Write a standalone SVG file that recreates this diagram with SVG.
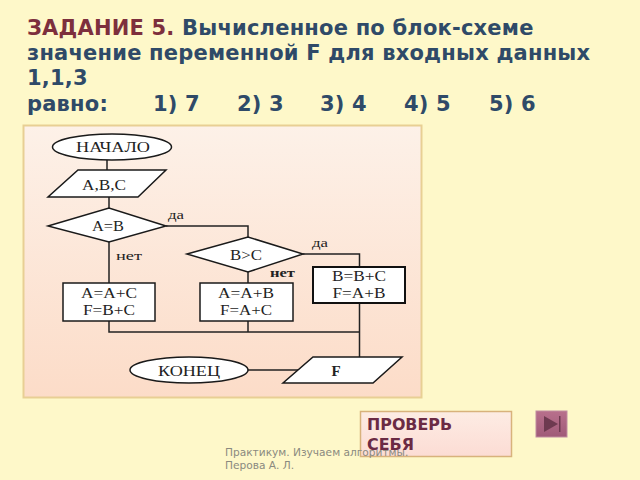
<svg xmlns="http://www.w3.org/2000/svg" width="640" height="480" viewBox="0 0 640 480">
<style>
.t{font-family:"DejaVu Sans",sans-serif;font-weight:bold;font-size:21px;letter-spacing:.2px;fill:#2f4a68}
.r{fill:#7d2f3d}
.s{fill:#fff;stroke:#1a1a1a;stroke-width:1.5}
.c{fill:none;stroke:#222;stroke-width:1.5}
.l{font-family:"Liberation Serif",serif;font-size:15px;fill:#222;text-anchor:middle}
.y{font-family:"Liberation Serif",serif;font-size:13px;fill:#222}
.f{font-family:"DejaVu Sans",sans-serif;font-size:10.600px;fill:#8a8a80}
.k{font-family:"DejaVu Sans",sans-serif;font-weight:bold;font-size:15px;fill:#6b2a44}
</style>
<defs>
<linearGradient id="p" x1="0" y1="0" x2="0" y2="1"><stop offset="0" stop-color="#fdf1e8"/><stop offset="1" stop-color="#fcdcc8"/></linearGradient>
<linearGradient id="b" x1="0" y1="0" x2="0" y2="1"><stop offset="0" stop-color="#fdece4"/><stop offset="1" stop-color="#fcdcd4"/></linearGradient>
<linearGradient id="n" x1="0" y1="0" x2="0" y2="1"><stop offset="0" stop-color="#b8708c"/><stop offset="1" stop-color="#a05a78"/></linearGradient>
</defs>
<rect width="640" height="480" fill="#fef8c9"/>
<g id="title">
<text class="t" x="27" y="35"><tspan class="r">ЗАДАНИЕ 5.</tspan> Вычисленное по блок-схеме</text>
<text class="t" x="27" y="60">значение переменной F для входных данных</text>
<text class="t" x="27" y="85">1,1,3</text>
<text class="t" x="27" y="111">равно:</text>
<text class="t" x="153" y="111">1) 7</text>
<text class="t" x="237" y="111">2) 3</text>
<text class="t" x="320" y="111">3) 4</text>
<text class="t" x="404" y="111">4) 5</text>
<text class="t" x="489" y="111">5) 6</text>
</g>
<rect id="panel" x="23.5" y="125.5" width="398" height="272" fill="url(#p)" stroke="#e8cf94" stroke-width="2"/>
<g id="connectors">
<path class="c" d="M107 160V170M109 197V208M166 226H248V237M303 254H359.500V267M109 242V283M248 272V283M109 321V332H359.500M248 321V332M359.500 303V357M248 370H298"/>
</g>
<g id="start"><ellipse class="s" cx="112" cy="147" rx="59.500" ry="13"/><text class="l" x="113" y="152" textLength="74" lengthAdjust="spacingAndGlyphs">НАЧАЛО</text></g>
<g id="input"><polygon class="s" points="78,170 166,170 138,197 48,197"/><text class="l" x="104" y="190" textLength="44" lengthAdjust="spacingAndGlyphs">A,B,C</text></g>
<g id="cond1"><polygon class="s" points="48,226 109,208 166,226 109,242"/><text class="l" x="108" y="231" textLength="32" lengthAdjust="spacingAndGlyphs">A=B</text></g>
<g id="cond2"><polygon class="s" points="187,254 248,237 303,254 248,272"/><text class="l" x="246" y="260" textLength="32" lengthAdjust="spacingAndGlyphs">B&gt;C</text></g>
<g id="box1"><rect class="s" x="63" y="283" width="92" height="38"/><text class="l" x="109" y="298" textLength="56" lengthAdjust="spacingAndGlyphs">A=A+C</text><text class="l" x="109" y="315" textLength="52" lengthAdjust="spacingAndGlyphs">F=B+C</text></g>
<g id="box2"><rect class="s" x="200" y="283" width="93" height="38"/><text class="l" x="246" y="298" textLength="56" lengthAdjust="spacingAndGlyphs">A=A+B</text><text class="l" x="246" y="315" textLength="52" lengthAdjust="spacingAndGlyphs">F=A+C</text></g>
<g id="box3"><rect x="313" y="267" width="92" height="36" fill="#fff" stroke="#111" stroke-width="2"/><text class="l" x="359" y="281" textLength="54" lengthAdjust="spacingAndGlyphs">B=B+C</text><text class="l" x="359" y="298" textLength="53" lengthAdjust="spacingAndGlyphs">F=A+B</text></g>
<g id="end"><ellipse class="s" cx="189" cy="370" rx="59" ry="13"/><text class="l" x="189" y="376" textLength="62" lengthAdjust="spacingAndGlyphs">КОНЕЦ</text></g>
<g id="output"><polygon class="s" points="313,357 402,357 373,383 283,383"/><text class="l" x="336" y="376" style="font-weight:bold;font-size:15px">F</text></g>
<g id="labels">
<text class="y" x="168" y="219" textLength="16" lengthAdjust="spacingAndGlyphs">да</text>
<text class="y" x="116" y="260" textLength="26" lengthAdjust="spacingAndGlyphs">нет</text>
<text class="y" x="312" y="247" textLength="16" lengthAdjust="spacingAndGlyphs">да</text>
<text class="y" x="270" y="277" textLength="25" lengthAdjust="spacingAndGlyphs" style="font-weight:bold">нет</text>
</g>
<g id="check"><rect x="360.500" y="411.500" width="151" height="45" fill="url(#b)" stroke="#d8b27c" stroke-width="1.500"/>
<text class="k" x="367" y="430" textLength="85" lengthAdjust="spacingAndGlyphs">ПРОВЕРЬ</text>
<text class="k" x="367" y="450" textLength="47" lengthAdjust="spacingAndGlyphs">СЕБЯ</text></g>
<g id="nav"><rect x="536" y="411" width="31" height="26" fill="url(#n)" stroke="#c08ca0"/><polygon points="544,416 558,424 544,432" fill="#6e3a50"/><rect x="559" y="416" width="1.500" height="16" fill="#6e3a50"/></g>
<g id="footer"><text class="f" x="225" y="456">Практикум. Изучаем алгоритмы.</text><text class="f" x="225" y="469">Перова А. Л.</text></g>
</svg>
